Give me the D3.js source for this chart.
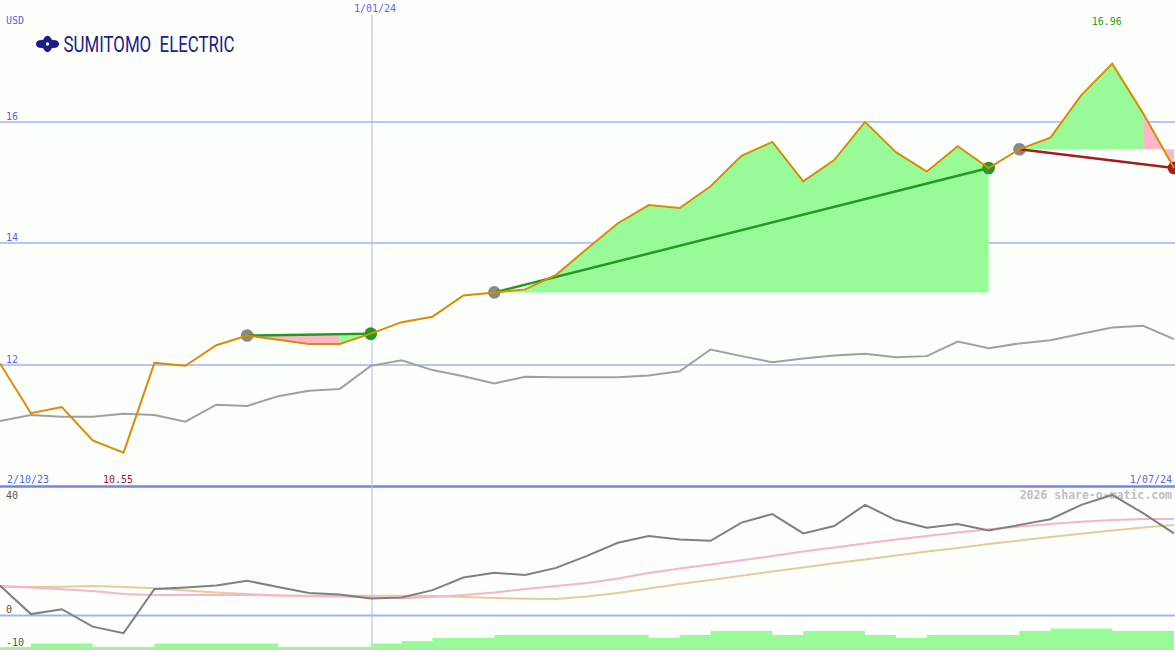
<!DOCTYPE html>
<html><head><meta charset="utf-8">
<script src="https://cdn.jsdelivr.net/npm/d3@7"></script>
<style>body{margin:0;background:#fcfffc;} svg{display:block}</style>
</head><body><svg id="c" width="1175" height="650"></svg>
<script>
const dates = ["2023-10-09","2023-10-16","2023-10-23","2023-10-30","2023-11-06","2023-11-13","2023-11-20","2023-11-27","2023-12-04","2023-12-11","2023-12-18","2023-12-25","2024-01-01","2024-01-08","2024-01-15","2024-01-22","2024-01-29","2024-02-05","2024-02-12","2024-02-19","2024-02-26","2024-03-04","2024-03-11","2024-03-18","2024-03-25","2024-04-01","2024-04-08","2024-04-15","2024-04-22","2024-04-29","2024-05-06","2024-05-13","2024-05-20","2024-05-27","2024-06-03","2024-06-10","2024-06-17","2024-06-24","2024-07-01"];
const price = [12.02,11.20,11.30,10.75,10.55,12.03,11.98,12.32,12.48,12.41,12.34,12.34,12.51,12.70,12.79,13.14,13.19,13.24,13.48,13.91,14.33,14.63,14.58,14.94,15.44,15.67,15.02,15.37,16.00,15.50,15.18,15.60,15.24,15.55,15.74,16.44,16.96,16.14,15.24];
const compare = [11.07,11.17,11.14,11.14,11.19,11.17,11.06,11.34,11.32,11.48,11.57,11.60,11.98,12.07,11.91,11.81,11.69,11.80,11.79,11.79,11.79,11.82,11.89,12.25,12.14,12.04,12.10,12.15,12.18,12.12,12.14,12.38,12.27,12.35,12.40,12.51,12.61,12.64,12.42];
const momentum = [10.5,0.5,2.2,-3.9,-6.2,9.3,9.8,10.5,12.2,10.0,7.9,7.4,6.0,6.3,8.9,13.3,15.0,14.2,16.7,20.9,25.5,27.9,26.7,26.2,32.6,35.6,28.8,31.4,38.8,33.5,30.8,32.1,29.8,31.8,33.8,38.8,42.3,35.9,28.8];
const momFast = [10.35,9.82,9.19,8.60,7.54,7.19,7.19,7.19,7.19,7.02,6.84,6.67,6.32,6.04,6.49,7.19,8.07,9.30,10.35,11.40,12.98,14.91,16.49,17.89,19.37,20.88,22.46,23.86,25.26,26.67,27.89,29.12,30.25,31.23,32.11,32.89,33.51,33.86,33.86];
const momSlow = [10.11,10.00,10.11,10.35,10.00,9.54,8.77,8.07,7.54,7.02,6.95,6.95,6.95,6.95,6.84,6.49,6.14,5.89,5.79,6.67,7.89,9.47,11.05,12.46,13.93,15.44,16.84,18.32,19.65,21.05,22.46,23.68,25.09,26.32,27.54,28.70,29.82,30.88,31.75];
const volume = [1.0,2.2,2.2,1.0,1.0,2.2,2.2,2.2,2.2,1.0,1.0,1.0,2.2,3.0,4.0,4.0,5.0,5.0,5.0,5.0,5.0,4.0,5.0,6.3,6.3,5.0,6.3,6.3,5.0,4.0,5.0,5.0,5.0,6.3,7.2,7.2,6.3,6.3,6.3];
const priceTicks = [12,14,16];
const momTicks = [40,0,-10];
const tradeEntry = [8,16,33];
const tradeExit = [12,32,38];
const dateLabelLeft = "2/10/23";
const dateLabelMid = "1/01/24";
const dateLabelRight = "1/07/24";
const markerDate = "2024-01-01";
const company = "SUMITOMO  ELECTRIC";
const currency = "USD";
const credit = "2026 share-o-matic.com";

const svg = d3.select("#c");
const mono = "DejaVu Sans Mono, monospace";
const x = d3.scalePoint().domain(dates).range([0, 1174]);
const y = d3.scaleLinear().domain([10, 18]).range([486, 0.5]);
const y2 = d3.scaleLinear().domain([0, 40]).range([615.5, 501.5]);
const yv = d3.scaleLinear().domain([0, 10]).range([650, 620]);
const xi = i => x(dates[i]);

svg.append("rect").attr("width",1175).attr("height",650).attr("fill","#fcfffc");

// grid
priceTicks.forEach(v => {
  svg.append("line").attr("x1",0).attr("x2",1175).attr("y1",Math.round(y(v))).attr("y2",Math.round(y(v)))
    .attr("stroke","#a3b3f0").attr("stroke-width",1.6);
  svg.append("text").attr("x",6).attr("y",y(v)-2).text(v).attr("font-family",mono).attr("font-size",10).attr("fill","#5566ee");
});
svg.append("line").attr("x1",0).attr("x2",1175).attr("y1",y2(0)).attr("y2",y2(0)).attr("stroke","#a3b3f0").attr("stroke-width",2);
svg.append("line").attr("x1",0).attr("x2",1175).attr("y1",486.5).attr("y2",486.5).attr("stroke","#7484ee").attr("stroke-width",2.5);
const mx = Math.round(x(markerDate)) + 1;
svg.append("line").attr("x1",mx).attr("x2",mx).attr("y1",15).attr("y2",650).attr("stroke","#a8b8fa").attr("stroke-width",1);

// texts
svg.append("text").attr("x",6).attr("y",24).text(currency).attr("font-family",mono).attr("font-size",10).attr("fill","#5566ee");
svg.append("text").attr("x",mx-18).attr("y",12).text(dateLabelMid).attr("font-family",mono).attr("font-size",10).attr("fill","#5566ee");
svg.append("text").attr("x",7).attr("y",483).text(dateLabelLeft).attr("font-family",mono).attr("font-size",10).attr("fill","#5566ee");
svg.append("text").attr("x",1172).attr("y",483).attr("text-anchor","end").text(dateLabelRight).attr("font-family",mono).attr("font-size",10).attr("fill","#5566ee");
const iMax = d3.maxIndex(price), iMin = d3.minIndex(price);
svg.append("text").attr("x",xi(iMax)-5.5).attr("y",24.5).attr("text-anchor","middle").text(price[iMax].toFixed(2)).attr("font-family",mono).attr("font-size",10).attr("fill","#22a022");
svg.append("text").attr("x",xi(iMin)-5.5).attr("y",483).attr("text-anchor","middle").text(price[iMin].toFixed(2)).attr("font-family",mono).attr("font-size",10).attr("fill","#aa1515");
momTicks.forEach(v => {
  svg.append("text").attr("x",6).attr("y", v < 0 ? y2(v)+2 : y2(v)-2.5).text(v).attr("font-family",mono).attr("font-size",10).attr("fill","#555");
});
svg.append("text").attr("x",1172).attr("y",499).attr("text-anchor","end").text(credit).attr("font-family",mono).attr("font-weight","bold").attr("font-size",11.5).attr("fill","#c0c0c0");

// logo
const lg = svg.append("g").attr("fill","#1c1c8c");
lg.append("ellipse").attr("cx",47.5).attr("cy",44).attr("rx",11.5).attr("ry",4.5);
lg.append("ellipse").attr("cx",47.5).attr("cy",44).attr("rx",5).attr("ry",8.2);
lg.append("circle").attr("cx",40).attr("cy",44).attr("r",3.8);
lg.append("circle").attr("cx",55).attr("cy",44).attr("r",3.8);
lg.append("circle").attr("cx",47.5).attr("cy",44).attr("r",1.7).attr("fill","#fff");
svg.append("text").attr("x",63.5).attr("y",52.3).attr("font-family","Liberation Sans Narrow, Roboto, sans-serif")
  .attr("font-size",22.5).attr("fill","#1c1c8c").attr("textLength",171).attr("lengthAdjust","spacingAndGlyphs")
  .style("white-space","pre").text(company);

// trade fills
const green = "#98fb98", pink = "#ffb6c8";
tradeEntry.forEach((e, k) => {
  const ex = tradeExit[k], ep = price[e];
  let runStart = e, runColor = price[e+1] > ep ? green : pink;
  for (let j = e; j < ex; j++) {
    const c = price[j+1] > ep ? green : pink;
    const last = j === ex - 1;
    if (c !== runColor) {
      drawRun(runStart, j, runColor, ep);
      runStart = j; runColor = c;
    }
    if (last) drawRun(runStart, ex, runColor, ep);
  }
});
function drawRun(a, b, color, ep) {
  const idx = d3.range(a, b+1);
  const ar = d3.area().x(i => xi(i)).y0(y(ep)).y1(i => y(price[i]));
  svg.append("path").attr("d", ar(idx)).attr("fill", color);
}

// comparison line
const idxAll = d3.range(price.length);
svg.append("path").attr("d", d3.line().x(i=>xi(i)).y(i=>y(compare[i]))(idxAll)).attr("fill","none").attr("stroke","#a0a0a0").attr("stroke-width",2);

// trades
tradeEntry.forEach((e, k) => {
  svg.append("circle").attr("cx",xi(e)).attr("cy",y(price[e])).attr("r",6.3).attr("fill","#888");
});
tradeEntry.forEach((e, k) => {
  const ex = tradeExit[k];
  const win = price[ex] > price[e];
  const col = win ? "#229922" : "#a51c1c";
  svg.append("line").attr("x1",xi(e)).attr("y1",y(price[e])).attr("x2",xi(ex)).attr("y2",y(price[ex])).attr("stroke",col).attr("stroke-width",2.5);
  svg.append("circle").attr("cx",xi(ex)).attr("cy",y(price[ex])).attr("r",6.3).attr("fill",col);
});

// price line
svg.append("path").attr("d", d3.line().x(i=>xi(i)).y(i=>y(price[i]))(idxAll)).attr("fill","none").attr("stroke","#d98c06").attr("stroke-width",2);

// volume
svg.append("path").attr("d", d3.area().curve(d3.curveStepAfter).x(i=>xi(i)).y0(650).y1(i=>yv(volume[i]))(idxAll)).attr("fill",green);

// momentum panel
svg.append("path").attr("d", d3.line().x(i=>xi(i)).y(i=>y2(momSlow[i]))(idxAll)).attr("fill","none").attr("stroke","#e4cc9c").attr("stroke-width",2);
svg.append("path").attr("d", d3.line().x(i=>xi(i)).y(i=>y2(momFast[i]))(idxAll)).attr("fill","none").attr("stroke","#f8b4c8").attr("stroke-width",2);
svg.append("path").attr("d", d3.line().x(i=>xi(i)).y(i=>y2(momentum[i]))(idxAll)).attr("fill","none").attr("stroke","#808080").attr("stroke-width",2);
</script></body></html>
